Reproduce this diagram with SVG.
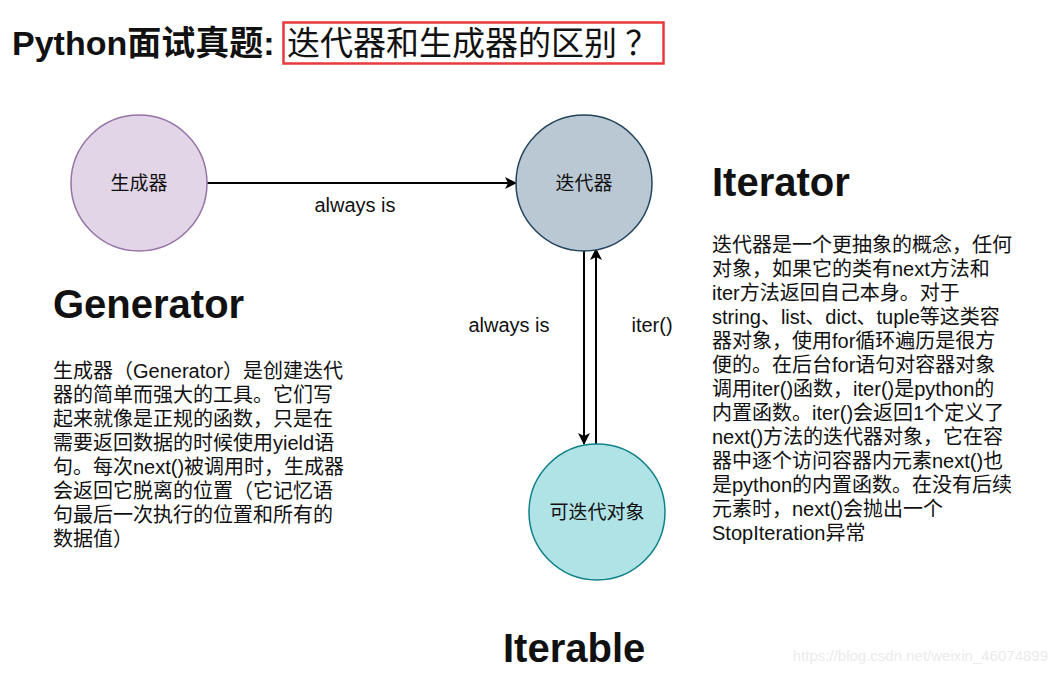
<svg xmlns="http://www.w3.org/2000/svg" width="1058" height="675" viewBox="0 0 1058 675">
<defs>
<style>
.t{font-family:"Liberation Sans","Noto Sans CJK SC",sans-serif;fill:#111}
.p{font-size:20px}
.h{font-size:40px;font-weight:bold}
.lbl{font-size:20px}
.node{font-size:19px;text-anchor:middle}
.edge{stroke:#000;stroke-width:2;fill:none}
</style>
<marker id="arrow" viewBox="0 0 12 12" refX="11" refY="6" markerWidth="12" markerHeight="12" markerUnits="userSpaceOnUse" orient="auto">
<path d="M0,0 L12,6 L0,12 L3,6 Z" fill="#000"/>
</marker>
</defs>
<rect width="1058" height="675" fill="#fff"/>
<g id="title">
<text x="12" y="55" class="t" style="font-size:34px;font-weight:bold">Python面试真题:</text>
<rect x="283.5" y="22.5" width="380" height="41" fill="none" stroke="#e8393c" stroke-width="2.5"/>
<text x="287" y="55" class="t" style="font-size:33px;font-family:'Liberation Serif','Noto Sans CJK SC',serif">迭代器和生成器的区别 ？</text>
</g>
<g id="connectors">
<line class="edge" x1="207" y1="183" x2="516" y2="183" marker-end="url(#arrow)"/>
<line class="edge" x1="584" y1="251" x2="584" y2="444" marker-end="url(#arrow)"/>
<line class="edge" x1="596" y1="444" x2="596" y2="249" marker-end="url(#arrow)"/>
<text x="355" y="212" class="t lbl" text-anchor="middle">always is</text>
<text x="509" y="332" class="t lbl" text-anchor="middle">always is</text>
<text x="652" y="332" class="t lbl" text-anchor="middle">iter()</text>
</g>
<g id="generator">
<circle cx="139" cy="183" r="68" fill="#e1d5e7" stroke="#9673a6" stroke-width="1.5"/>
<text x="139" y="190" class="t node">生成器</text>
</g>
<g id="iterator">
<circle cx="584" cy="183" r="68" fill="#bac8d3" stroke="#23445d" stroke-width="1.5"/>
<text x="584" y="190" class="t node">迭代器</text>
</g>
<g id="iterable">
<circle cx="597" cy="512" r="68" fill="#b0e3e6" stroke="#0e8088" stroke-width="1.5"/>
<text x="597" y="519" class="t node">可迭代对象</text>
</g>
<g id="generator-desc">
<text x="53" y="318" class="t h">Generator</text>
<text class="t p">
<tspan x="53" y="378">生成器（Generator）是创建迭代</tspan>
<tspan x="53" y="402">器的简单而强大的工具。它们写</tspan>
<tspan x="53" y="426">起来就像是正规的函数，只是在</tspan>
<tspan x="53" y="450">需要返回数据的时候使用yield语</tspan>
<tspan x="53" y="474">句。每次next()被调用时，生成器</tspan>
<tspan x="53" y="498">会返回它脱离的位置（它记忆语</tspan>
<tspan x="53" y="522">句最后一次执行的位置和所有的</tspan>
<tspan x="53" y="546">数据值）</tspan>
</text>
</g>
<g id="iterator-desc">
<text x="712" y="196" class="t h">Iterator</text>
<text class="t p">
<tspan x="712" y="252">迭代器是一个更抽象的概念，任何</tspan>
<tspan x="712" y="276">对象，如果它的类有next方法和</tspan>
<tspan x="712" y="300">iter方法返回自己本身。对于</tspan>
<tspan x="712" y="324">string、list、dict、tuple等这类容</tspan>
<tspan x="712" y="348">器对象，使用for循环遍历是很方</tspan>
<tspan x="712" y="372">便的。在后台for语句对容器对象</tspan>
<tspan x="712" y="396">调用iter()函数，iter()是python的</tspan>
<tspan x="712" y="420">内置函数。iter()会返回1个定义了</tspan>
<tspan x="712" y="444">next()方法的迭代器对象，它在容</tspan>
<tspan x="712" y="468">器中逐个访问容器内元素next()也</tspan>
<tspan x="712" y="492">是python的内置函数。在没有后续</tspan>
<tspan x="712" y="516">元素时，next()会抛出一个</tspan>
<tspan x="712" y="540">StopIteration异常</tspan>
</text>
</g>
<g id="iterable-desc">
<text x="503" y="662" class="t h">Iterable</text>
</g>
<text x="1048" y="661" text-anchor="end" style="font-family:'Liberation Sans',sans-serif;font-size:15px;fill:#ebebeb">https://blog.csdn.net/weixin_46074899</text>
</svg>
